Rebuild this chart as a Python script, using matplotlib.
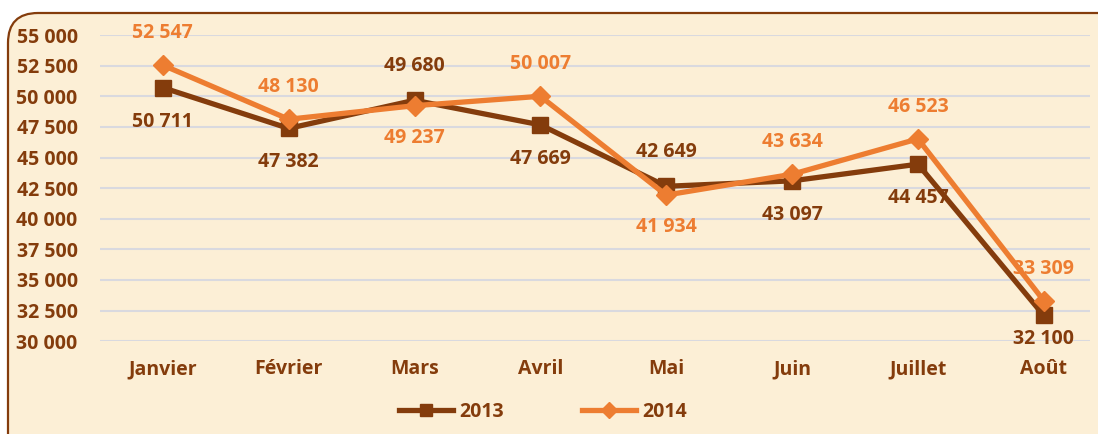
import matplotlib.pyplot as plt
from matplotlib.patches import FancyBboxPatch

plt.rcParams['font.family'] = ['Open Sans', 'DejaVu Sans']

months = ['Janvier', 'Février', 'Mars', 'Avril', 'Mai', 'Juin', 'Juillet', 'Août']
v2013 = [50711, 47382, 49680, 47669, 42649, 43097, 44457, 32100]
v2014 = [52547, 48130, 49237, 50007, 41934, 43634, 46523, 33309]
# label placement: +1 above, -1 below
pos2013 = [-1, -1, 1, -1, 1, -1, -1, -1]
pos2014 = [1, 1, -1, 1, -1, 1, 1, 1]

brown = '#843C0C'
orange = '#ED7D31'
bg = '#FCEFD6'
fs = 14


def fmt(v):
    return f"{v:,}".replace(",", " ")


fig = plt.figure(figsize=(10.98, 4.34), dpi=100)
fig.patch.set_facecolor('white')

box = FancyBboxPatch((0.08, -0.3), 11.2, 4.51, boxstyle='round,pad=0,rounding_size=0.3',
                     transform=fig.dpi_scale_trans, facecolor=bg, edgecolor=brown,
                     linewidth=1.6, zorder=-5)
fig.patches.append(box)

ax = fig.add_axes([0.091, 0.214, 0.902, 0.705])
ax.set_facecolor('none')

x = list(range(len(months)))
ax.plot(x, v2013, color=brown, lw=3.8, marker='s', markersize=11, label='2013', zorder=3)
ax.plot(x, v2014, color=orange, lw=3.8, marker='D', markersize=10, label='2014', zorder=4)

for xi, v, p in zip(x, v2013, pos2013):
    off = 24 if xi == len(x) - 1 else 34
    ax.annotate(fmt(v), (xi, v), xytext=(0, off * p), textcoords='offset pixels',
                ha='center', va='center', color=brown, fontsize=fs, fontweight='bold', zorder=5)
for xi, v, p in zip(x, v2014, pos2014):
    ax.annotate(fmt(v), (xi, v), xytext=(0, 32 * p), textcoords='offset pixels',
                ha='center', va='center', color=orange, fontsize=fs, fontweight='bold', zorder=5)

ax.set_ylim(30000, 55000)
ax.set_yticks(range(30000, 55001, 2500))
ax.set_yticklabels([fmt(t) for t in range(30000, 55001, 2500)])
ax.set_xlim(-0.5, 7.37)
ax.set_xticks(x)
ax.set_xticklabels(months)
ax.grid(axis='y', color='#D9D9DF', lw=1.5, zorder=1)
ax.set_axisbelow(True)
for s in ax.spines.values():
    s.set_visible(False)
ax.tick_params(length=0, colors=brown, labelsize=fs)
ax.tick_params(axis='y', pad=16)
ax.tick_params(axis='x', pad=13)
for lab in ax.get_xticklabels() + ax.get_yticklabels():
    lab.set_fontweight('bold')

leg = ax.legend(loc='center', bbox_to_anchor=(0.447, -0.232), ncol=2, frameon=False,
                handlelength=2.8, handletextpad=0.3, columnspacing=4.0, markerscale=0.85,
                prop={'weight': 'bold', 'size': fs})
for t in leg.get_texts():
    t.set_color(brown)

fig.savefig('out.png', dpi=100, facecolor=fig.get_facecolor())
